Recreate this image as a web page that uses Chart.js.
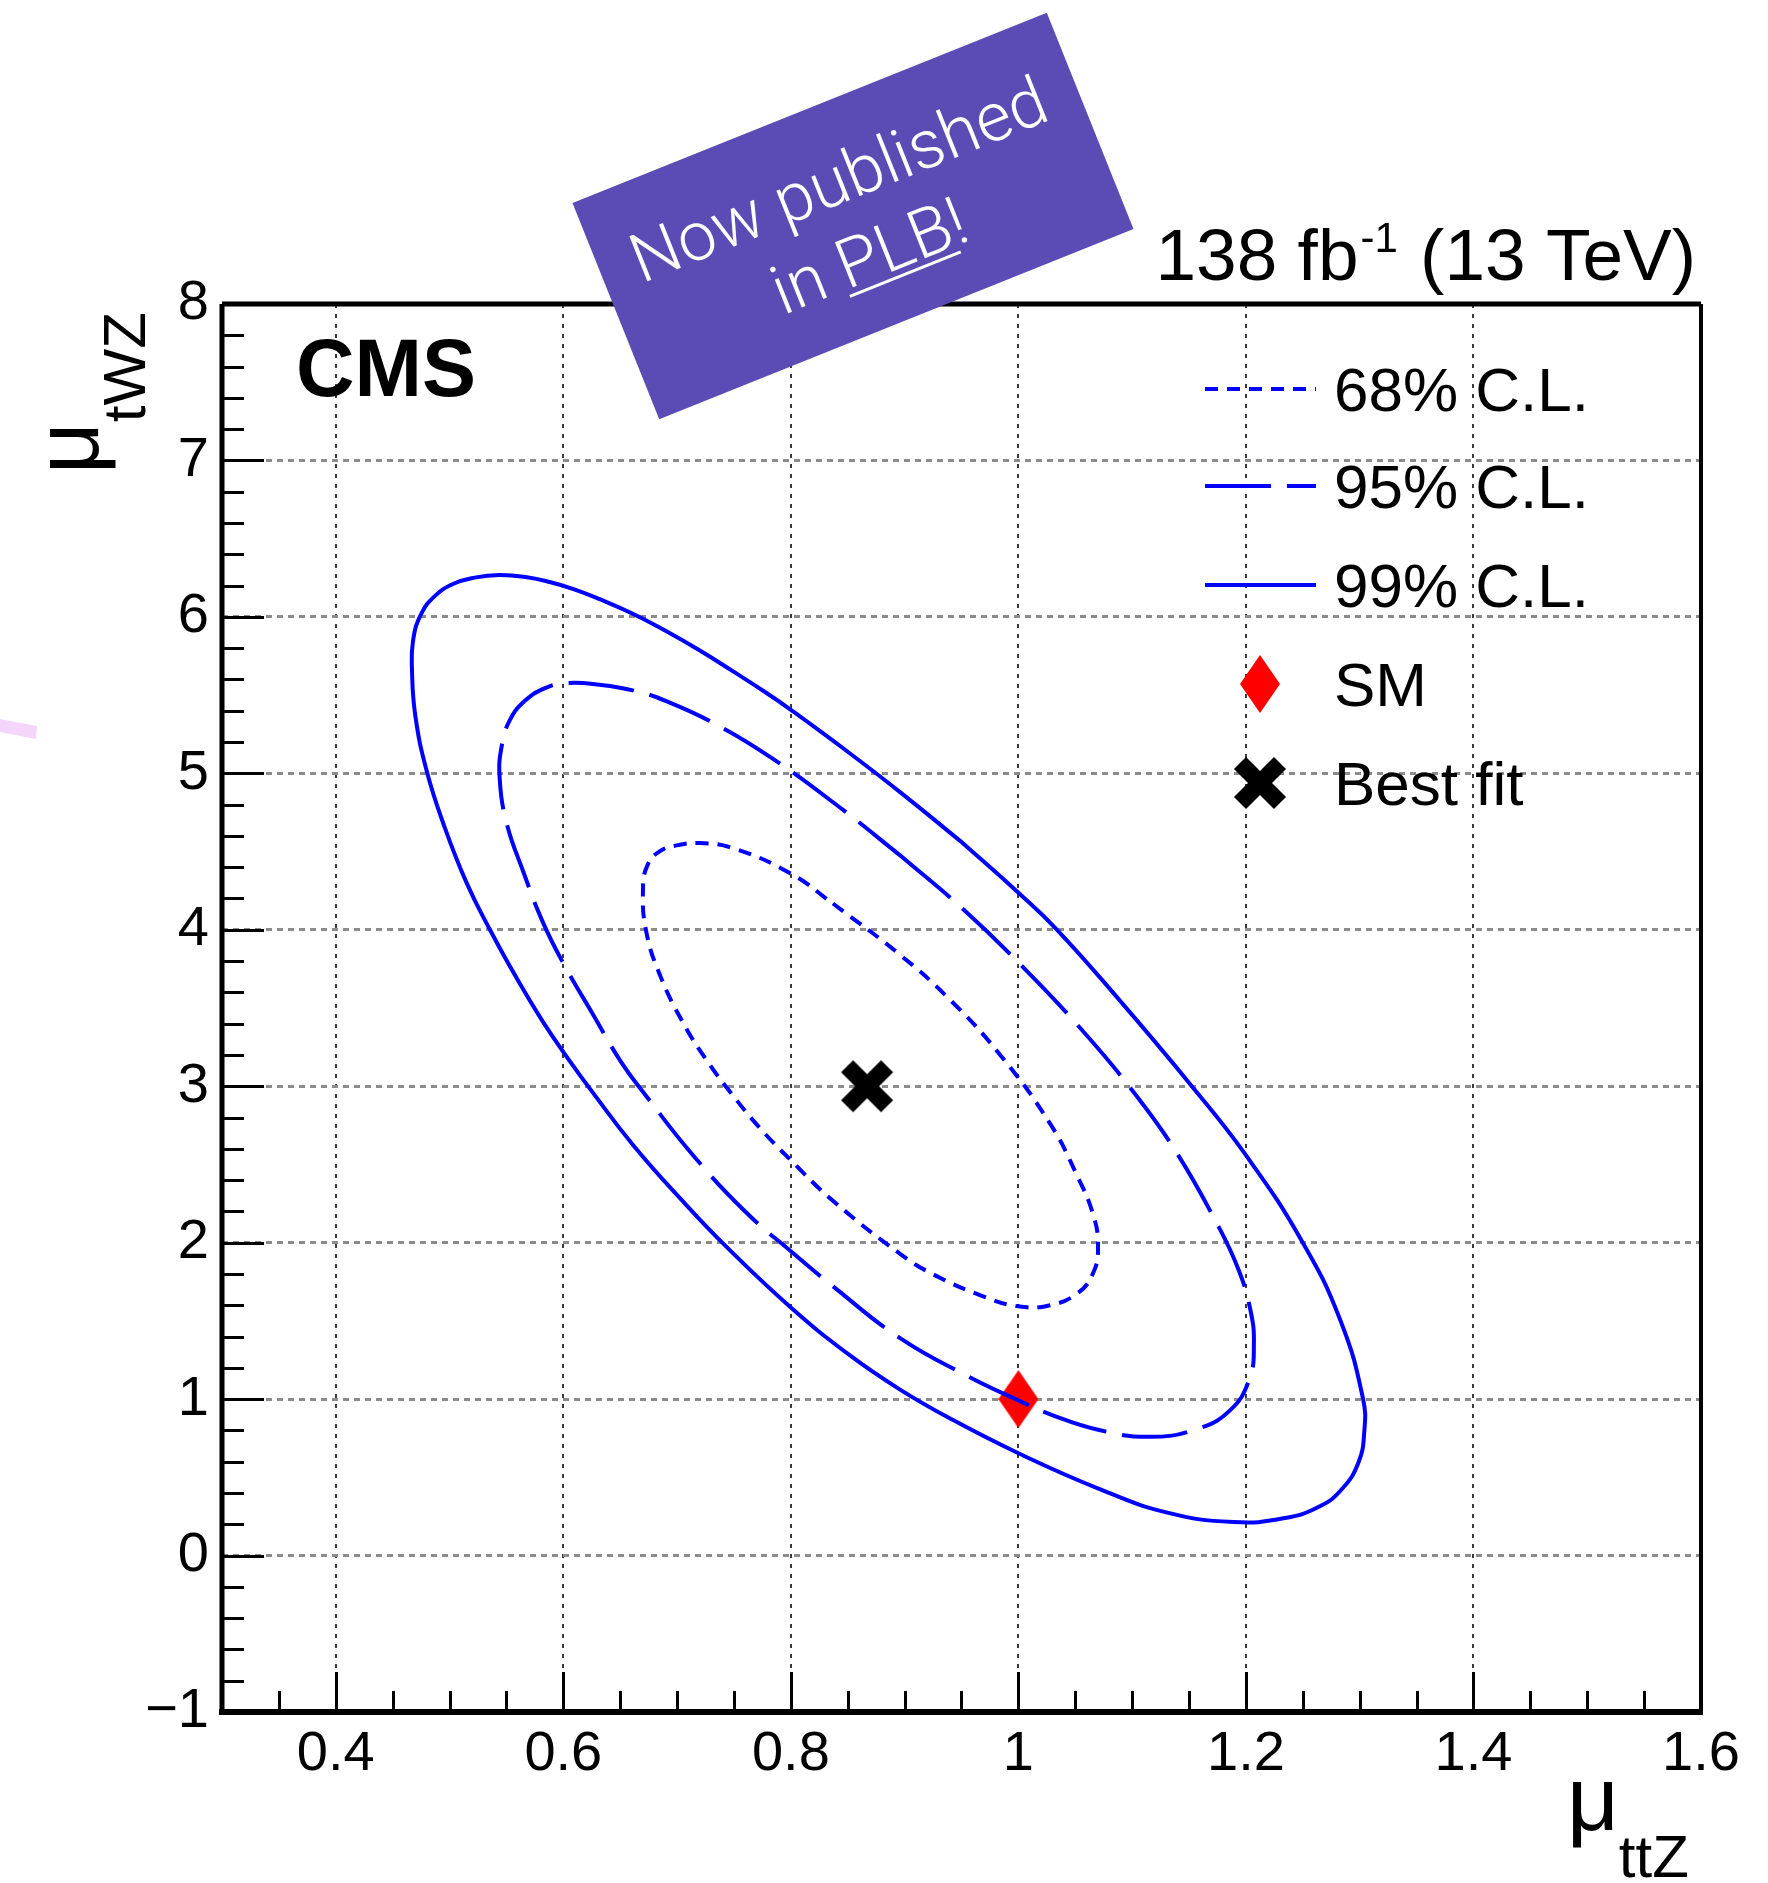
<!DOCTYPE html>
<html>
<head>
<meta charset="utf-8">
<title>mu_ttZ vs mu_tWZ likelihood contours</title>
<script src="https://cdn.jsdelivr.net/npm/chart.js@4.4.0/dist/chart.umd.min.js"></script>
<style>
  html, body { margin: 0; padding: 0; background: #fff; }
  canvas { display: block; }
</style>
</head>
<body>
<canvas id="contourChart" width="1768" height="1883" style="width:1768px;height:1883px"></canvas>
<script>
// ============================================
// CMS ttZ / tWZ signal strength scan, redrawn with Chart.js
// contours are read off the published figure point by point
// (each loop starts on a straight stretch so the seam doesn't show)
// ============================================

const xTickValues = [0.4, 0.6, 0.8, 1.0, 1.2, 1.4, 1.6];
const yTickValues = [-1, 0, 1, 2, 3, 4, 5, 6, 7, 8];

const clLabels = ['68% C.L.', '95% C.L.', '99% C.L.'];
const markerLabels = ['SM', 'Best fit'];

// 68% C.L. contour (dotted)
const c68X = [0.837, 0.896, 0.940, 0.984, 1.028, 1.051, 1.066, 1.070, 1.066, 1.052, 1.026, 1.000, 0.969, 0.925, 0.896,
              0.837, 0.800, 0.773, 0.749, 0.726, 0.705, 0.685, 0.673, 0.670, 0.674, 0.685, 0.701, 0.720, 0.749, 0.800,
              0.837];
const c68Y = [4.168, 3.840, 3.552, 3.200, 2.759, 2.438, 2.173, 1.977, 1.811, 1.677, 1.597, 1.593, 1.657, 1.798, 1.929,
              2.268, 2.527, 2.731, 2.942, 3.166, 3.409, 3.710, 3.985, 4.253, 4.413, 4.503, 4.541, 4.554, 4.522, 4.359,
              4.168];

// 95% C.L. contour (dashed)
const c95X = [0.896, 0.952, 1.000, 1.051, 1.101, 1.139, 1.174, 1.193, 1.204, 1.207, 1.203, 1.186, 1.156, 1.116, 1.072,
              1.028, 1.000, 0.955, 0.896, 0.837, 0.800, 0.761, 0.714, 0.673, 0.651, 0.626, 0.600, 0.582, 0.565, 0.550,
              0.544, 0.546, 0.553, 0.566, 0.584, 0.603, 0.632, 0.662, 0.691, 0.735, 0.783, 0.842, 0.896];
const c95Y = [4.476, 4.128, 3.791, 3.399, 2.965, 2.576, 2.129, 1.836, 1.568, 1.344, 1.127, 0.928, 0.807, 0.759, 0.801,
              0.903, 0.992, 1.149, 1.390, 1.721, 1.945, 2.191, 2.559, 2.936, 3.153, 3.460, 3.786, 4.049, 4.368, 4.688,
              4.976, 5.180, 5.340, 5.462, 5.545, 5.577, 5.566, 5.529, 5.460, 5.310, 5.099, 4.788, 4.476];

// 99% C.L. contour (solid)
const c99X = [0.949, 1.000, 1.034, 1.089, 1.151, 1.200, 1.250, 1.283, 1.303, 1.304, 1.299, 1.285, 1.265, 1.233, 1.189,
              1.130, 1.072, 1.000, 0.940, 0.896, 0.852, 0.800, 0.741, 0.706, 0.662, 0.624, 0.606, 0.582, 0.559, 0.536,
              0.515, 0.495, 0.480, 0.470, 0.467, 0.468, 0.475, 0.487, 0.503, 0.522, 0.544, 0.568, 0.588, 0.609, 0.632,
              0.662, 0.691, 0.720, 0.749, 0.779, 0.800, 0.848, 0.896, 0.949];
const c99Y = [4.567, 4.237, 4.000, 3.549, 3.013, 2.559, 2.000, 1.504, 1.000, 0.788, 0.596, 0.430, 0.315, 0.238, 0.214,
              0.276, 0.423, 0.654, 0.876, 1.061, 1.279, 1.586, 1.991, 2.257, 2.618, 2.978, 3.157, 3.413, 3.691, 3.994,
              4.300, 4.670, 5.013, 5.364, 5.660, 5.852, 6.018, 6.133, 6.210, 6.251, 6.267, 6.253, 6.223, 6.178, 6.113,
              6.017, 5.906, 5.785, 5.653, 5.512, 5.406, 5.149, 4.880, 4.567];

// single points
const smX = [1.0];
const smY = [1.0];
const bestX = [0.867];
const bestY = [3.0];

const FONT = '"Liberation Sans", Arial, Helvetica, sans-serif';
const BLUE = '#0000ff';
const SM_RED = '#ff0000';

function toPoints(xs, ys) {
    return xs.map(function (x, i) { return { x: x, y: ys[i] }; });
}

// ROOT-ish marker shapes as small canvases (used as pointStyle)
function makeDiamond() {
    const c = document.createElement('canvas');
    c.width = 40; c.height = 58;
    const g = c.getContext('2d');
    g.fillStyle = SM_RED;
    g.beginPath();
    g.moveTo(20, 0); g.lineTo(40, 29); g.lineTo(20, 58); g.lineTo(0, 29);
    g.closePath();
    g.fill();
    return c;
}
function makeCross() {
    const c = document.createElement('canvas');
    c.width = 60; c.height = 60;
    const g = c.getContext('2d');
    g.strokeStyle = '#000';
    g.lineWidth = 17;
    g.lineCap = 'butt';
    g.beginPath();
    g.moveTo(10, 10); g.lineTo(50, 50);
    g.moveTo(50, 10); g.lineTo(10, 50);
    g.stroke();
    return c;
}
const diamondImg = makeDiamond();
const crossImg = makeCross();

function contourDataset(label, xs, ys, dash) {
    return {
        label: label,
        data: toPoints(xs, ys),
        showLine: true,
        borderColor: BLUE,
        backgroundColor: BLUE,
        borderWidth: 4,
        borderDash: dash,
        pointRadius: 0,
        pointHoverRadius: 0,
        tension: 0.45,
        fill: false
    };
}

const datasets = [
    contourDataset(clLabels[0], c68X, c68Y, [13, 9]),
    contourDataset(clLabels[1], c95X, c95Y, [66, 16]),
    contourDataset(clLabels[2], c99X, c99Y, []),
    { label: markerLabels[0], data: toPoints(smX, smY), pointStyle: diamondImg, pointRadius: 10, showLine: false },
    { label: markerLabels[1], data: toPoints(bestX, bestY), pointStyle: crossImg, pointRadius: 10, showLine: false }
];

// inner ticks + frame, ROOT style
const frameTicksPlugin = {
    id: 'frameTicks',
    afterDatasetsDraw(chart) {
        const ctx = chart.ctx;
        const a = chart.chartArea;
        const xs = chart.scales.x, ys = chart.scales.y;
        ctx.save();
        ctx.strokeStyle = '#000';
        ctx.lineWidth = 3;
        ctx.beginPath();
        for (let k = 0; k <= 45; k++) {           // y: minor every 0.2
            const v = ys.min + k * 0.2;
            if (v <= ys.min + 1e-6 || v >= ys.max - 1e-6) continue;
            const major = Math.abs(v - Math.round(v)) < 1e-6;
            const py = Math.round(ys.getPixelForValue(v)) + 0.5;
            ctx.moveTo(a.left, py);
            ctx.lineTo(a.left + (major ? 42 : 22), py);
        }
        for (let k = 1; k < 26; k++) {            // x: minor every 0.05
            const v = xs.min + k * 0.05;
            const major = Math.abs(v * 5 - Math.round(v * 5)) < 1e-6;
            const px = Math.round(xs.getPixelForValue(v)) + 0.5;
            ctx.moveTo(px, a.bottom);
            ctx.lineTo(px, a.bottom - (major ? 40 : 21));
        }
        ctx.stroke();

        ctx.lineWidth = 5;
        ctx.beginPath();
        ctx.moveTo(a.left, a.top); ctx.lineTo(a.right, a.top);
        ctx.moveTo(a.left, a.top); ctx.lineTo(a.left, a.bottom);
        ctx.stroke();
        ctx.lineWidth = 6;
        ctx.beginPath();
        ctx.moveTo(a.left - 3, a.bottom); ctx.lineTo(a.right + 2, a.bottom);
        ctx.stroke();
        ctx.lineWidth = 4;
        ctx.beginPath();
        ctx.moveTo(a.right, a.top); ctx.lineTo(a.right, a.bottom);
        ctx.stroke();
        ctx.restore();
    }
};

// text labels, legend, banner
const decorPlugin = {
    id: 'decor',
    afterDraw(chart) {
        const ctx = chart.ctx;
        ctx.save();
        ctx.fillStyle = '#000';
        ctx.textBaseline = 'alphabetic';
        ctx.textAlign = 'left';

        // CMS
        ctx.font = 'bold 81px ' + FONT;
        ctx.fillText('CMS', 296, 396);

        // lumi header, right aligned at the frame
        ctx.font = '73px ' + FONT;
        const w1 = ctx.measureText('138 fb').width;
        const w3 = ctx.measureText(' (13 TeV)').width;
        ctx.font = '42px ' + FONT;
        const w2 = ctx.measureText('-1').width + 4;
        let hx = 1696 - (w1 + w2 + w3);
        ctx.font = '73px ' + FONT;
        ctx.fillText('138 fb', hx, 280);
        ctx.font = '42px ' + FONT;
        ctx.fillText('-1', hx + w1 + 2, 252);
        ctx.font = '73px ' + FONT;
        ctx.fillText(' (13 TeV)', hx + w1 + w2, 280);

        // axis titles
        ctx.font = '90px ' + FONT;
        const muW = ctx.measureText('\u03bc').width;
        ctx.fillText('\u03bc', 1567, 1830);
        ctx.font = '60px ' + FONT;
        ctx.fillText('ttZ', 1567 + muW, 1877);

        ctx.save();
        ctx.translate(98, 474);
        ctx.rotate(-Math.PI / 2);
        ctx.font = '90px ' + FONT;
        ctx.fillText('\u03bc', 0, 0);
        ctx.font = '60px ' + FONT;
        ctx.fillText('tWZ', muW, 47);
        ctx.restore();

        // legend
        const rowY = [389, 486, 585, 684, 783];
        const ds = chart.data.datasets;
        ctx.font = '62px ' + FONT;
        for (let i = 0; i < ds.length; i++) {
            const d = ds[i];
            const y = rowY[i];
            if (d.showLine) {
                ctx.save();
                ctx.strokeStyle = d.borderColor;
                ctx.lineWidth = d.borderWidth;
                ctx.setLineDash(d.borderDash || []);
                ctx.beginPath();
                ctx.moveTo(1205, y);
                ctx.lineTo(1316, y);
                ctx.stroke();
                ctx.restore();
            } else {
                const img = d.pointStyle;
                ctx.drawImage(img, 1260 - img.width / 2, y - img.height / 2);
            }
            ctx.fillStyle = '#000';
            ctx.fillText(d.label, 1334, y + 22);
        }

        // "Now published" banner
        ctx.save();
        ctx.translate(853, 216);
        ctx.rotate(-21.85 * Math.PI / 180);
        ctx.fillStyle = '#5b4cb5';
        ctx.fillRect(-255.5, -116.5, 511, 233);
        ctx.fillStyle = '#fff';
        ctx.font = '300 68px Roboto, ' + FONT;
        ctx.textAlign = 'center';
        ctx.fillText('Now published', 0, -16);
        ctx.textAlign = 'left';
        const line2 = 'in PLB!';
        const l2w = ctx.measureText(line2).width;
        const x0 = -l2w / 2;
        ctx.fillText(line2, x0, 66);
        const inW = ctx.measureText('in ').width;
        const plbW = ctx.measureText('PLB').width;
        ctx.fillRect(x0 + inW, 72, plbW, 3);
        ctx.restore();

        // faint pink stroke at the left edge
        ctx.fillStyle = '#f3d6fa';
        ctx.beginPath();
        ctx.moveTo(0, 719); ctx.lineTo(37, 726); ctx.lineTo(36, 739); ctx.lineTo(0, 732);
        ctx.closePath();
        ctx.fill();

        ctx.restore();
    }
};

new Chart(document.getElementById('contourChart'), {
    type: 'scatter',
    data: { datasets: datasets },
    plugins: [frameTicksPlugin, decorPlugin],
    options: {
        responsive: false,
        animation: false,
        events: [],
        layout: { padding: { left: 0, top: 304, right: 67, bottom: 0 } },
        plugins: {
            legend: { display: false },
            tooltip: { enabled: false }
        },
        scales: {
            x: {
                type: 'linear',
                min: 0.3,
                max: 1.6,
                afterBuildTicks: function (s) { s.ticks = xTickValues.map(function (v) { return { value: v }; }); },
                afterFit: function (s) { s.height = 171; },
                ticks: {
                    autoSkip: false,
                    maxRotation: 0,
                    padding: 9,
                    color: '#000',
                    font: { family: FONT, size: 56 },
                    callback: function (v) { return String(Math.round(v * 10) / 10); }
                },
                grid: { color: '#3a3a3a', lineWidth: 2, drawTicks: false },
                border: { display: false, dash: [4, 6] }
            },
            y: {
                type: 'linear',
                min: -1,
                max: 8,
                afterBuildTicks: function (s) { s.ticks = yTickValues.map(function (v) { return { value: v }; }); },
                afterFit: function (s) { s.width = 222; },
                ticks: {
                    autoSkip: false,
                    padding: 13,
                    color: '#000',
                    font: { family: FONT, size: 56 },
                    callback: function (v) { return v < 0 ? '\u2212' + Math.abs(v) : String(v); }
                },
                grid: { color: '#8c8c8c', lineWidth: 3, drawTicks: false },
                border: { display: false, dash: [6, 5] }
            }
        }
    }
});
</script>
</body>
</html>
